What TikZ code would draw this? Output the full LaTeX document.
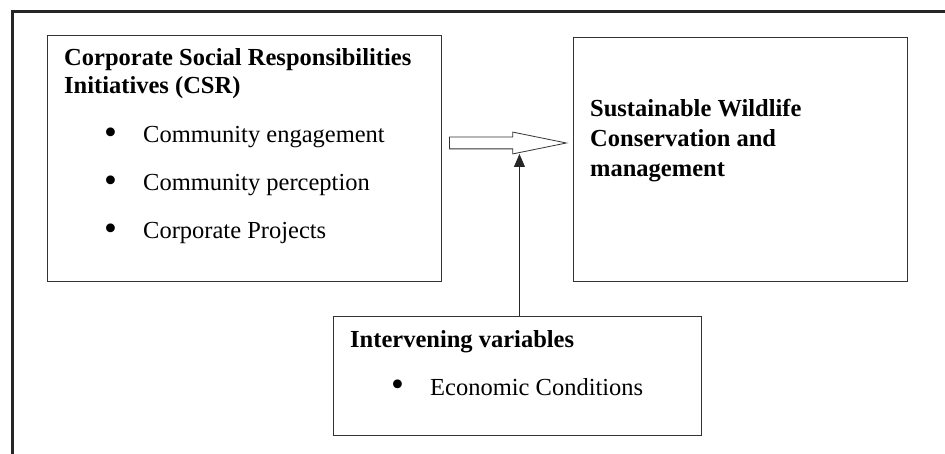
\documentclass[tikz,border=0pt]{standalone}
\usepackage{fontspec}
\setmainfont{Liberation Serif}
\usetikzlibrary{arrows.meta,shapes.arrows,calc}

\tikzset{
  box/.style={draw=black!80, line width=0.9pt, anchor=north west, inner sep=0pt},
  head/.style={anchor=base west, inner sep=0pt, align=left,
    font=\fontsize{24.5}{28}\selectfont\bfseries},
  item/.style={anchor=base west, inner sep=0pt, font=\fontsize{24.5}{28}\selectfont},
}
% bullet, then the text 39pt further right
\newcommand{\bulletitem}[1]{\makebox[39pt][l]{\raisebox{-1.5pt}{\scalebox{1.5}{\textbullet}}}#1}

\begin{document}
\begin{tikzpicture}[x=1pt,y=-1pt]
    \useasboundingbox (0,0) rectangle (945,454);
    % frame, open to the right and at the bottom
    \draw[black!85, line width=3pt] (12,454) -- (12,12) -- (945,12);
    % boxes
    \node[box, minimum width=394pt, minimum height=246pt] (csr) at (47,35) {};
    \node[box, minimum width=334pt, minimum height=244pt] (swc) at (573,37) {};
    \node[box, minimum width=368pt, minimum height=119pt] (ivar) at (333,316) {};
    % independent variable (base = last line)
    \node[head] (csrhead) at (64,94) {Corporate Social Responsibilities\\Initiatives (CSR)};
    \foreach \i/\y/\txt in {1/143/Community engagement,2/191/Community perception,3/239/Corporate Projects} {
        \node[item] (csr-\i) at (104,\y) {\bulletitem{\txt}};
    }
    % dependent variable
    \node[head, font=\fontsize{24.5}{30}\selectfont\bfseries] (swchead) at (590,177)
        {Sustainable Wildlife\\Conservation and\\management};
    % intervening variable
    \node[head] (ivarhead) at (350,347) {Intervening variables};
    \node[item] (ivar-1) at (391,395) {\bulletitem{Economic Conditions}};
    % hollow arrow csr -> swc
    \node[single arrow, draw=black!80, line width=0.8pt, fill=white, inner sep=5.5pt,
        minimum height=117pt, single arrow head extend=5pt, single arrow tip angle=23,
        anchor=tail] (flow) at (449,143) {};
    \draw[black!85, line width=0.8pt, -{Triangle[length=13pt,width=11pt]}]
        ([xshift=2pt]ivar.north) -- ($(ivar.north |- flow.tail)+(2,11)$);
\end{tikzpicture}
\end{document}
